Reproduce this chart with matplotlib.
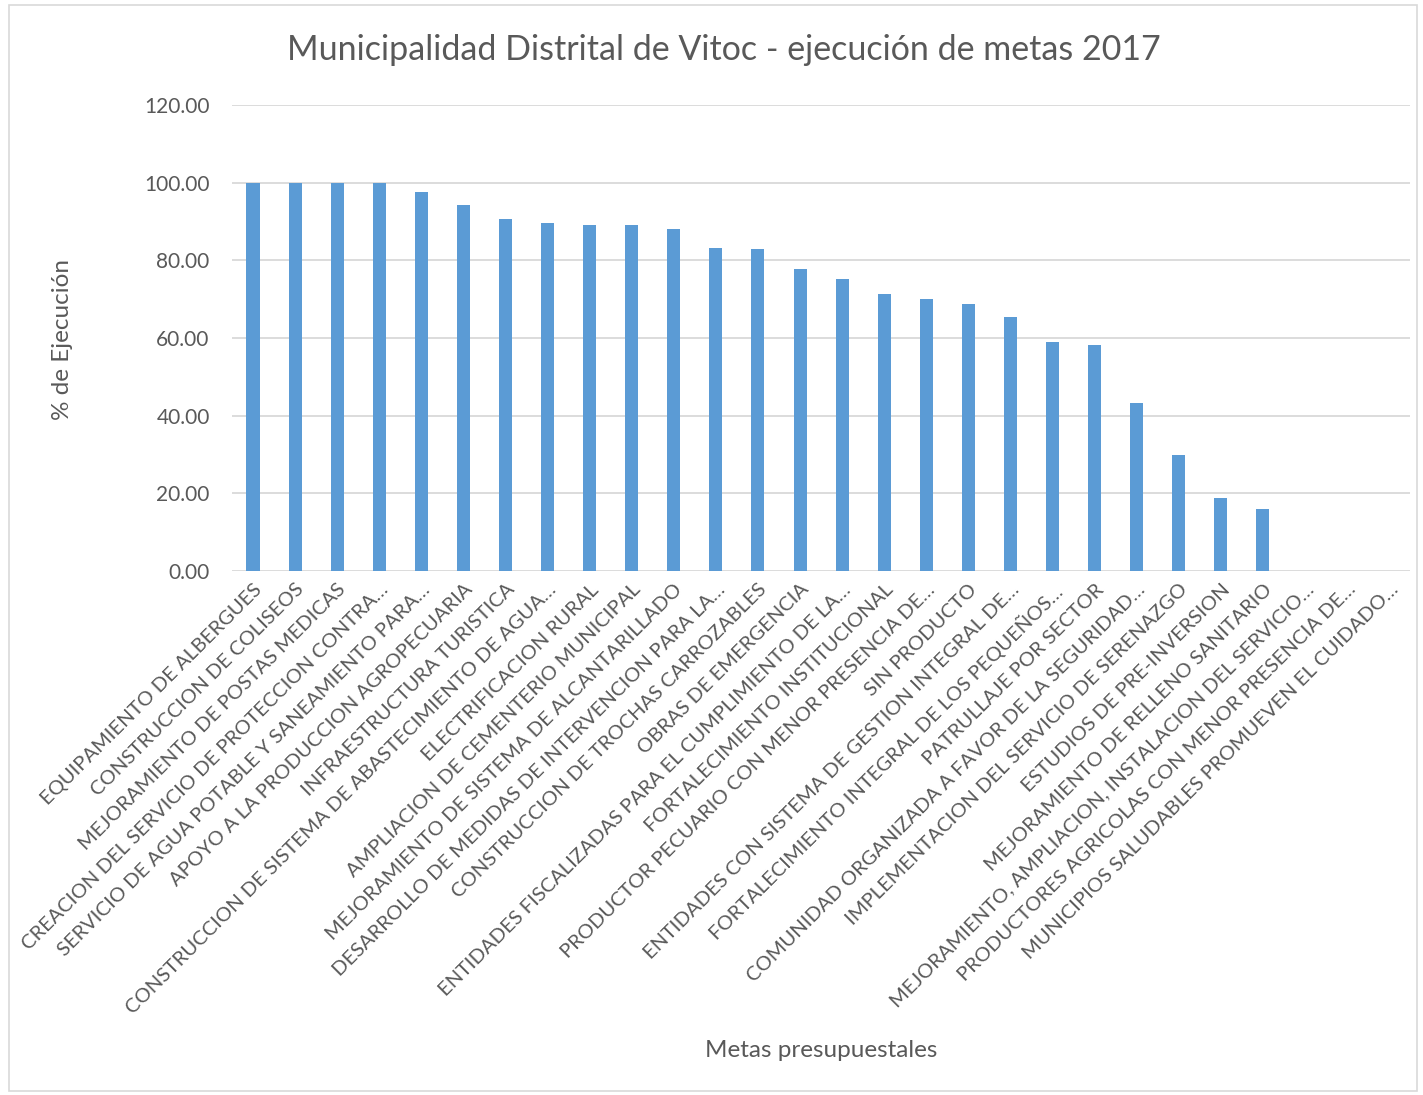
import numpy as np
import matplotlib
matplotlib.use("Agg")
from matplotlib import pyplot as plt
from matplotlib.patches import Rectangle

# metas presupuestales y porcentaje de ejecucion
metas = [
    "EQUIPAMIENTO DE ALBERGUES",
    "CONSTRUCCION DE COLISEOS",
    "MEJORAMIENTO DE POSTAS MEDICAS",
    "CREACION DEL SERVICIO DE PROTECCION CONTRA…",
    "SERVICIO DE AGUA POTABLE Y SANEAMIENTO PARA…",
    "APOYO A LA PRODUCCION AGROPECUARIA",
    "INFRAESTRUCTURA TURISTICA",
    "CONSTRUCCION DE SISTEMA DE ABASTECIMIENTO DE AGUA…",
    "ELECTRIFICACION RURAL",
    "AMPLIACION DE CEMENTERIO MUNICIPAL",
    "MEJORAMIENTO DE SISTEMA DE ALCANTARILLADO",
    "DESARROLLO DE MEDIDAS DE INTERVENCION PARA LA…",
    "CONSTRUCCION DE TROCHAS CARROZABLES",
    "OBRAS DE EMERGENCIA",
    "ENTIDADES FISCALIZADAS PARA EL CUMPLIMIENTO DE LA…",
    "FORTALECIMIENTO INSTITUCIONAL",
    "PRODUCTOR PECUARIO CON MENOR PRESENCIA DE…",
    "SIN PRODUCTO",
    "ENTIDADES CON SISTEMA DE GESTION INTEGRAL DE…",
    "FORTALECIMIENTO INTEGRAL DE LOS PEQUEÑOS…",
    "PATRULLAJE POR SECTOR",
    "COMUNIDAD ORGANIZADA A FAVOR DE LA SEGURIDAD…",
    "IMPLEMENTACION DEL SERVICIO DE SERENAZGO",
    "ESTUDIOS DE PRE-INVERSION",
    "MEJORAMIENTO DE RELLENO SANITARIO",
    "MEJORAMIENTO, AMPLIACION, INSTALACION DEL SERVICIO…",
    "PRODUCTORES AGRICOLAS CON MENOR PRESENCIA DE…",
    "MUNICIPIOS SALUDABLES PROMUEVEN EL CUIDADO…",
]
ejecucion = [100.0, 100.0, 100.0, 100.0, 97.5, 94.2, 90.6, 89.7, 89.2, 89.0,
             88.1, 83.1, 83.0, 77.9, 75.2, 71.4, 70.0, 68.7, 65.5, 58.9,
             58.1, 43.4, 30.0, 18.7, 16.0, 0.0, 0.0, 0.0]
yticks = [0, 20, 40, 60, 80, 100, 120]

bar_color = "#5B9BD5"
text_color = "#595959"
grid_color = "#D9D9D9"
plt.rcParams["font.family"] = ["Lato", "DejaVu Sans"]

fig = plt.figure(figsize=(14.23, 10.95), dpi=100, facecolor="white")
fig.patches.append(Rectangle((0.006, 0.004), 0.99, 0.991, transform=fig.transFigure,
                             fill=False, edgecolor=grid_color, lw=1.2))
ax = fig.add_axes([0.163, 0.4785, 0.828, 0.4255])

x = np.arange(len(metas))
ax.bar(x, ejecucion, width=0.31, color=bar_color, zorder=3)

ax.set_xlim(-0.5, len(metas) - 0.5)
ax.set_ylim(0, 120)
ax.set_yticks(yticks)
ax.set_yticklabels(["%.2f" % v for v in yticks], fontsize=15, color=text_color)
ax.yaxis.grid(True, color=grid_color, lw=1.3, zorder=0)
ax.set_xticks(x)
ax.set_xticklabels(metas, rotation=45, ha="right", rotation_mode="anchor",
                   fontsize=14.5, color=text_color)
ax.tick_params(length=0)
ax.tick_params(axis="y", pad=16)
ax.tick_params(axis="x", pad=7)
for s in ax.spines.values():
    s.set_visible(False)

fig.text(0.509, 0.954, "Municipalidad Distrital de Vitoc - ejecución de metas 2017",
         ha="center", va="center", fontsize=24.5, color=text_color)
fig.text(0.044, 0.69, "% de Ejecución", rotation=90, ha="center", va="center",
         fontsize=17.5, color=text_color)
fig.text(0.577, 0.041, "Metas presupuestales", ha="center", va="center",
         fontsize=17.5, color=text_color)

fig.savefig("out.png", dpi=100, facecolor="white")
